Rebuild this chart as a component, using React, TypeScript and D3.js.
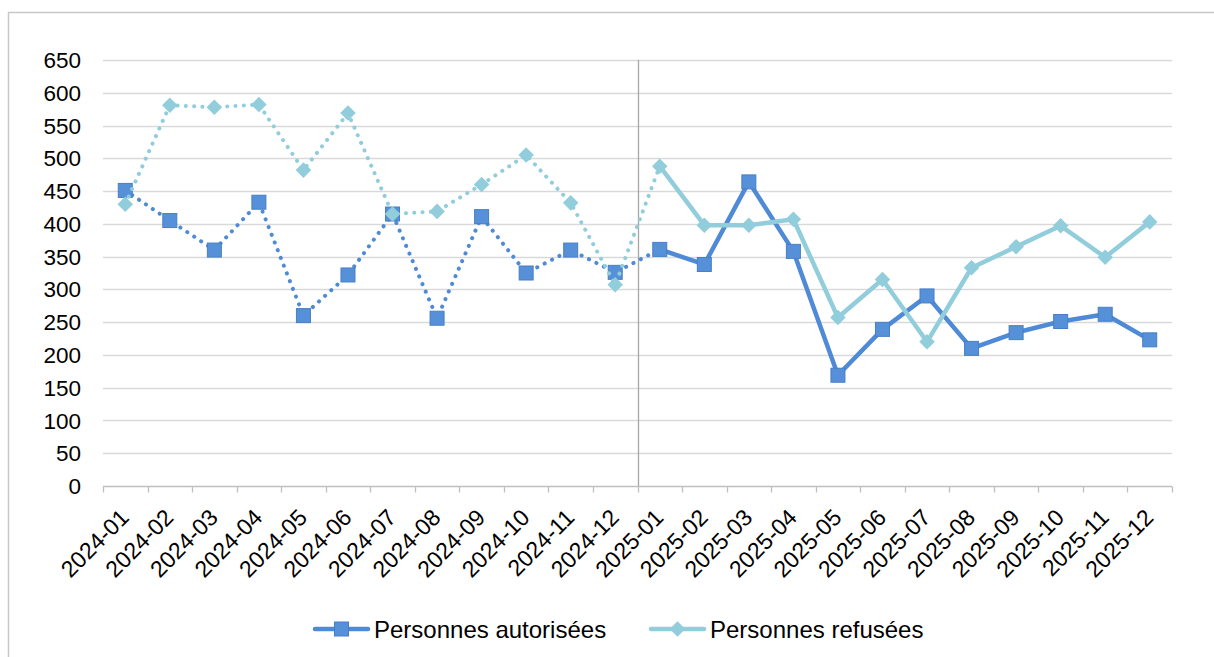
import { useEffect, useRef } from "react";
import * as d3 from "d3";

const months = [
  "2024-01", "2024-02", "2024-03", "2024-04", "2024-05", "2024-06",
  "2024-07", "2024-08", "2024-09", "2024-10", "2024-11", "2024-12",
  "2025-01", "2025-02", "2025-03", "2025-04", "2025-05", "2025-06",
  "2025-07", "2025-08", "2025-09", "2025-10", "2025-11", "2025-12",
];

const autorisees = [
  451, 405, 360, 433, 260, 322, 415, 256, 411, 325, 360, 326,
  361, 338, 464, 358, 169, 239, 290, 210, 234, 251, 262, 223,
];

const refusees = [
  430, 581, 578, 582, 482, 569, 415, 419, 460, 505, 432, 307,
  488, 398, 398, 407, 257, 315, 220, 333, 365, 397, 349, 403,
];

const yTicks = [0, 50, 100, 150, 200, 250, 300, 350, 400, 450, 500, 550, 600, 650];

const seriesNames = ["Personnes autorisées", "Personnes refusées"];

const W = 1214;
const H = 657;
const margin = { top: 60, right: 42, bottom: 171, left: 103 };
const FONT = "'Liberation Sans', Arial, sans-serif";

const BLUE = "#4f8ad6";
const BLUE_FILL = "#5590d8";
const BLUE_EDGE = "#477fc6";
const AQUA = "#92cddc";

export default function App() {
  const svgRef = useRef<SVGSVGElement>(null);

  useEffect(() => {
    if (!svgRef.current) return;
    const svg = d3.select(svgRef.current);
    svg.selectAll("*").remove();

    const x = d3
      .scaleBand<string>()
      .domain(months)
      .range([margin.left, W - margin.right]);
    const y = d3
      .scaleLinear()
      .domain([0, 650])
      .range([H - margin.bottom, margin.top]);
    const cx = (m: string) => x(m)! + x.bandwidth() / 2;

    // frame (only top and left edges show)
    svg.append("line").attr("x1", 8).attr("x2", W).attr("y1", 12.5).attr("y2", 12.5)
      .attr("stroke", "#c8c8c8").attr("stroke-width", 1.5);
    svg.append("line").attr("x1", 8.5).attr("x2", 8.5).attr("y1", 12).attr("y2", H)
      .attr("stroke", "#c8c8c8").attr("stroke-width", 1.5);

    // gridlines
    svg.append("g")
      .selectAll("line")
      .data(yTicks.filter((t) => t > 0))
      .enter()
      .append("line")
      .attr("x1", margin.left)
      .attr("x2", W - margin.right)
      .attr("y1", (d) => Math.round(y(d)) + 0.5)
      .attr("y2", (d) => Math.round(y(d)) + 0.5)
      .attr("stroke", "#d9d9d9")
      .attr("stroke-width", 1.3);

    // y labels
    svg.append("g")
      .selectAll("text")
      .data(yTicks)
      .enter()
      .append("text")
      .attr("x", 81)
      .attr("y", (d) => y(d))
      .attr("dy", "0.36em")
      .attr("text-anchor", "end")
      .style("font-family", FONT)
      .style("font-size", "22.5px")
      .style("fill", "#000")
      .text((d) => d);

    // year divider
    const divX = Math.round(x("2025-01")!) + 0.5;
    svg.append("line")
      .attr("x1", divX).attr("x2", divX)
      .attr("y1", y(650)).attr("y2", y(0))
      .attr("stroke", "#a6a6a6").attr("stroke-width", 1.3);

    // x axis
    const axisY = Math.round(y(0)) + 0.5;
    svg.append("line")
      .attr("x1", margin.left).attr("x2", W - margin.right)
      .attr("y1", axisY).attr("y2", axisY)
      .attr("stroke", "#bfbfbf").attr("stroke-width", 1.3);

    const bounds = months.map((m) => x(m)!).concat([x(months[months.length - 1])! + x.bandwidth()]);
    svg.append("g")
      .selectAll("line")
      .data(bounds)
      .enter()
      .append("line")
      .attr("x1", (d) => Math.round(d) + 0.5)
      .attr("x2", (d) => Math.round(d) + 0.5)
      .attr("y1", axisY)
      .attr("y2", axisY + 6)
      .attr("stroke", "#bfbfbf")
      .attr("stroke-width", 1.3);

    svg.append("g")
      .selectAll("text")
      .data(months)
      .enter()
      .append("text")
      .attr("transform", (d) => `translate(${cx(d) + 5}, 519) rotate(-45)`)
      .attr("text-anchor", "end")
      .style("font-family", FONT)
      .style("font-size", "23px")
      .style("fill", "#000")
      .text((d) => d);

    // series
    const drawSeries = (values: number[], color: string, kind: "square" | "diamond") => {
      const pts = values.map((v, i) => [cx(months[i]), y(v)] as [number, number]);
      const line = d3.line<[number, number]>();
      const g = svg.append("g");
      g.append("path")
        .attr("d", line(pts.slice(0, 13)))
        .attr("fill", "none")
        .attr("stroke", color)
        .attr("stroke-width", 4)
        .attr("stroke-linecap", "round")
        .attr("stroke-dasharray", "0.1 8.2");
      g.append("path")
        .attr("d", line(pts.slice(12)))
        .attr("fill", "none")
        .attr("stroke", color)
        .attr("stroke-width", 4.5)
        .attr("stroke-linejoin", "round");
      if (kind === "square") {
        g.selectAll("rect")
          .data(pts)
          .enter()
          .append("rect")
          .attr("x", (d) => d[0] - 7)
          .attr("y", (d) => d[1] - 7)
          .attr("width", 14)
          .attr("height", 14)
          .attr("fill", BLUE_FILL)
          .attr("stroke", BLUE_EDGE)
          .attr("stroke-width", 1);
      } else {
        g.selectAll("rect")
          .data(pts)
          .enter()
          .append("rect")
          .attr("x", -5.5)
          .attr("y", -5.5)
          .attr("width", 11)
          .attr("height", 11)
          .attr("transform", (d) => `translate(${d[0]}, ${d[1]}) rotate(45)`)
          .attr("fill", AQUA);
      }
    };

    drawSeries(autorisees, BLUE, "square");
    drawSeries(refusees, AQUA, "diamond");

    // legend
    const legend = [
      { name: seriesNames[0], color: BLUE, kind: "square", x0: 315 },
      { name: seriesNames[1], color: AQUA, kind: "diamond", x0: 651 },
    ];
    const ly = 629;
    legend.forEach((item) => {
      const g = svg.append("g");
      g.append("line")
        .attr("x1", item.x0).attr("x2", item.x0 + 53)
        .attr("y1", ly).attr("y2", ly)
        .attr("stroke", item.color).attr("stroke-width", 4.5)
        .attr("stroke-linecap", "round");
      const mx = item.x0 + 26.5;
      if (item.kind === "square") {
        g.append("rect")
          .attr("x", mx - 7).attr("y", ly - 7)
          .attr("width", 14).attr("height", 14)
          .attr("fill", BLUE_FILL).attr("stroke", BLUE_EDGE).attr("stroke-width", 1);
      } else {
        g.append("rect")
          .attr("x", -5.5).attr("y", -5.5)
          .attr("width", 11).attr("height", 11)
          .attr("transform", `translate(${mx}, ${ly}) rotate(45)`)
          .attr("fill", AQUA);
      }
      g.append("text")
        .attr("x", item.x0 + 59)
        .attr("y", ly)
        .attr("dy", "0.36em")
        .style("font-family", FONT)
        .style("font-size", "24px")
        .style("fill", "#000")
        .text(item.name);
    });
  }, []);

  return (
    <svg
      ref={svgRef}
      width={W}
      height={H}
      style={{ position: "absolute", left: 0, top: 0, background: "#fff" }}
    />
  );
}
